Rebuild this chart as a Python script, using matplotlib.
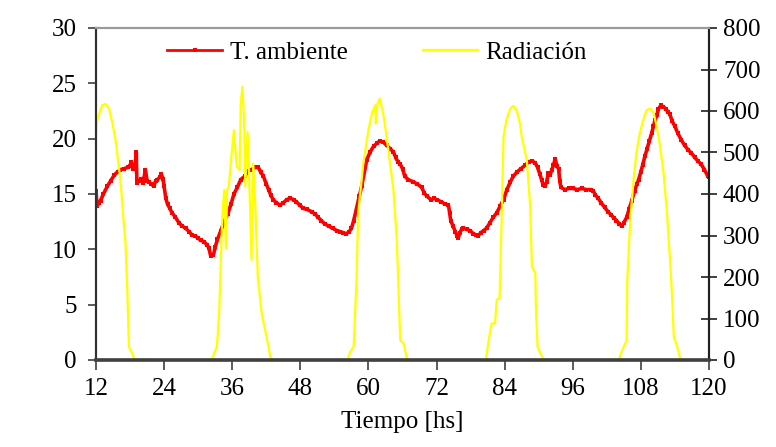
import matplotlib
matplotlib.use("Agg")
import matplotlib.pyplot as plt

plt.rcParams['font.family'] = ['Liberation Serif', 'DejaVu Serif']

# Temperature (T. ambiente) readings: hours, degC
t_temp = [12.0, 12.2, 12.5, 12.8, 13.3, 14.0, 14.6, 15.2, 15.8, 16.3, 17.0, 17.6, 18.0, 18.2, 18.5,
          18.9, 19.1, 19.2, 19.6, 20.0, 20.3, 20.7, 21.0, 21.3, 21.7, 22.2, 22.5, 22.8, 23.2, 23.5,
          23.8, 24.0, 24.3, 24.6, 25.0, 25.4, 26.0, 26.6, 27.2, 27.8, 28.4, 28.9, 29.5, 30.0, 30.5,
          31.0, 31.6, 31.9, 32.2, 32.7, 33.0, 33.4, 34.0, 34.5, 35.2, 35.8, 36.3, 36.9, 37.5, 38.2,
          38.8, 39.4, 40.0, 40.6, 41.0, 41.5, 42.0, 42.4, 42.8, 43.2, 43.8, 44.4, 45.0, 45.6, 46.2,
          46.8, 47.3, 47.9, 48.5, 49.2, 50.0, 50.6, 51.1, 51.7, 52.3, 53.0, 53.7, 54.4, 55.0, 55.6,
          56.1, 56.6, 57.0, 57.4, 57.9, 58.4, 58.8, 59.3, 59.7, 60.3, 60.9, 61.5, 62.0, 62.6, 63.2,
          63.8, 64.4, 64.8, 65.2, 65.6, 66.0, 66.4, 67.0, 67.9, 68.6, 69.4, 69.8, 70.3, 71.0, 71.6,
          72.0, 72.8, 73.5, 74.1, 74.3, 74.5, 74.9, 75.3, 75.6, 75.8, 76.1, 76.4, 76.7, 77.3, 77.9,
          78.5, 79.0, 79.3, 79.8, 80.3, 80.8, 81.4, 82.0, 82.6, 83.2, 83.8, 84.4, 85.0, 85.5, 86.2,
          86.9, 87.6, 88.2, 88.8, 89.4, 89.8, 90.2, 90.5, 90.8, 91.1, 91.4, 91.7, 92.0, 92.3, 92.6,
          92.9, 93.2, 93.5, 93.7, 93.9, 94.6, 95.3, 96.0, 96.8, 97.6, 98.4, 99.2, 99.6, 100.0, 100.5,
          101.0, 101.6, 102.2, 102.8, 103.3, 103.7, 104.2, 104.6, 105.0, 105.5, 105.9, 106.4, 106.9,
          107.3, 107.6, 108.0, 108.3, 108.7, 109.1, 109.5, 109.9, 110.2, 110.5, 110.8, 111.1, 111.5,
          111.9, 112.4, 112.8, 113.1, 113.5, 114.0, 114.5, 115.1, 115.7, 116.3, 116.9, 117.5, 118.0,
          118.6, 119.2, 119.8, 120.0]
temp = [15.3, 13.9, 14.2, 14.4, 15.0, 15.7, 16.2, 16.7, 17.0, 17.2, 17.3, 17.4, 17.5, 17.9, 17.3,
        17.6, 18.8, 16.0, 16.2, 16.4, 16.0, 17.2, 16.2, 16.1, 15.9, 15.7, 16.2, 16.3, 16.5, 16.8,
        16.4, 15.7, 14.6, 14.1, 13.7, 13.3, 12.9, 12.4, 12.1, 11.9, 11.6, 11.3, 11.2, 11.0, 10.8,
        10.7, 10.4, 10.1, 9.4, 9.5, 10.2, 10.9, 11.7, 12.4, 13.2, 14.1, 15.0, 15.6, 16.3, 16.6,
        17.1, 17.2, 17.4, 17.4, 17.0, 16.6, 15.9, 15.4, 14.9, 14.5, 14.2, 14.0, 14.2, 14.5, 14.6,
        14.5, 14.3, 14.0, 13.7, 13.6, 13.4, 13.2, 12.9, 12.6, 12.3, 12.1, 11.9, 11.7, 11.6, 11.5,
        11.4, 11.6, 11.9, 12.6, 13.7, 14.8, 15.7, 17.0, 18.1, 18.8, 19.3, 19.6, 19.8, 19.7, 19.4,
        19.1, 18.8, 18.3, 17.9, 17.7, 17.3, 16.6, 16.3, 16.1, 15.9, 15.6, 15.1, 14.8, 14.5, 14.6,
        14.5, 14.3, 14.1, 14.0, 13.3, 12.6, 12.1, 11.6, 11.2, 11.0, 11.5, 11.8, 11.9, 11.8, 11.7,
        11.4, 11.3, 11.2, 11.5, 11.7, 11.9, 12.4, 12.9, 13.3, 13.9, 14.5, 15.4, 16.1, 16.6, 17.0,
        17.3, 17.6, 17.9, 18.0, 17.8, 17.4, 16.8, 16.3, 15.8, 15.7, 16.1, 16.9, 16.7, 17.2, 17.6,
        18.2, 17.5, 17.3, 16.2, 15.6, 15.4, 15.5, 15.5, 15.4, 15.5, 15.4, 15.4, 15.3, 14.9, 14.6,
        14.2, 13.8, 13.4, 13.1, 12.8, 12.6, 12.3, 12.1, 12.4, 12.9, 13.6, 14.4, 15.3,
        15.9, 16.3, 17.0, 17.6, 18.4, 19.1, 19.8, 20.5, 21.1, 21.7, 22.1, 22.7, 23.0,
        22.9, 22.7, 22.4, 22.2, 21.6, 21.1, 20.5, 19.9, 19.4, 19.0, 18.7, 18.3, 18.0,
        17.7, 17.2, 16.6, 16.5]

# Radiation readings: hours, W/m2
t_rad = [12.0, 12.2, 13.1, 13.7, 14.3, 14.9, 15.5, 15.8, 16.3, 16.9, 17.2, 17.5, 17.8, 18.4, 18.8,
         32.4, 32.8, 33.3, 33.7, 34.0, 34.3, 34.6, 34.9, 35.1, 35.4, 35.8, 36.3, 36.8, 37.3, 37.5,
         37.8, 38.1, 38.3, 38.7, 38.9, 39.1, 39.4, 39.7, 40.1, 40.5, 41.2, 41.8, 42.4, 42.8,
         56.3, 56.8, 57.4, 57.9, 58.2, 59.1, 60.0, 60.6, 61.2, 61.3, 61.6, 62.0, 62.6, 63.2, 63.8,
         64.4, 65.0, 65.6, 66.2, 66.7, 67.0,
         80.7, 81.1, 81.7, 82.3, 82.6, 83.1, 83.5, 83.8, 84.3, 85.0, 85.5, 86.1, 86.7, 87.0, 87.9,
         88.5, 88.8, 89.4, 89.5, 89.8, 90.3, 90.9,
         104.1, 104.6, 105.5, 105.6, 106.1, 106.7, 107.2, 107.8, 108.4, 109.0, 109.6, 110.2, 110.8,
         111.4, 112.0, 112.6, 113.2, 113.5, 113.8, 114.4, 115.0, 120.0]
rad = [546, 578, 614, 617, 606, 570, 526, 490, 434, 329, 281, 177, 32, 16, 0,
       0, 16, 32, 112, 241, 357, 410, 269, 410, 418, 482, 554, 466, 458, 618,
       658, 578, 418, 550, 482, 386, 241, 474, 365, 200, 112, 72, 32, 0,
       0, 20, 32, 193, 354, 474, 554, 594, 614, 570, 618, 630, 594, 538, 474,
       410, 289, 48, 40, 8, 0,
       0, 40, 88, 88, 145, 149, 354, 538, 578, 606, 612, 602, 570, 538, 482,
       369, 225, 209, 129, 32, 16, 0,
       0, 20, 48, 193, 329, 434, 498, 546, 578, 602, 606, 598, 562,
       514, 450, 354, 225, 153, 56, 32, 0, 0]

x_ticks = [12, 24, 36, 48, 60, 72, 84, 96, 108, 120]
y_left_ticks = [0, 5, 10, 15, 20, 25, 30]
y_right_ticks = [0, 100, 200, 300, 400, 500, 600, 700, 800]

fig = plt.figure(figsize=(7.76, 4.47), dpi=100)
ax = fig.add_axes([96/776, 1 - 360/447, 613/776, 332/447])
ax2 = ax.twinx()

l1, = ax.plot(t_temp, temp, color='#FF0000', lw=2.6, marker='s', markersize=3.4,
              markeredgewidth=0, label='T. ambiente')
l2, = ax2.plot(t_rad, rad, color='#FFFF00', lw=1.6, label='Radiación', zorder=2)

ax.set_xlim(12, 120)
ax.set_ylim(0, 30)
ax2.set_ylim(0, 800)
ax.set_xticks(x_ticks)
ax.set_yticks(y_left_ticks)
ax2.set_yticks(y_right_ticks)

fs = 18
ax.tick_params(axis='x', direction='out', length=7, width=1.2, labelsize=fs, pad=6, color='#404040')
ax.tick_params(axis='y', direction='out', length=6, width=1.2, labelsize=fs, pad=8, color='#404040')
ax2.tick_params(axis='y', direction='inout', length=12, width=1.2, labelsize=fs, pad=4, color='#202020')

for a in (ax, ax2):
    a.spines['top'].set_color('#9a9a9a')
    a.spines['top'].set_linewidth(1.5)
    a.spines['left'].set_color('#303030')
    a.spines['left'].set_linewidth(1.5)
    a.spines['right'].set_color('#202020')
    a.spines['right'].set_linewidth(1.5)
    a.spines['bottom'].set_color('#404040')
    a.spines['bottom'].set_linewidth(1.5)
ax2.spines['bottom'].set_visible(True)
ax2.spines['bottom'].set_linewidth(2.6)
ax2.spines['bottom'].set_color('#404040')
ax2.spines['bottom'].set_zorder(10)

ax.set_xlabel('Tiempo [hs]', fontsize=fs, labelpad=8)

leg = ax2.legend([l1, l2], ['T. ambiente', 'Radiación'], loc='center', bbox_to_anchor=(0.458, 0.925),
                 ncol=2, frameon=False, fontsize=fs, handlelength=2.2, handletextpad=0.3,
                 columnspacing=3.0, numpoints=1, markerscale=1.0)
leg.get_lines()[0].set_linewidth(2.0)

fig.savefig('out.png', dpi=100)
